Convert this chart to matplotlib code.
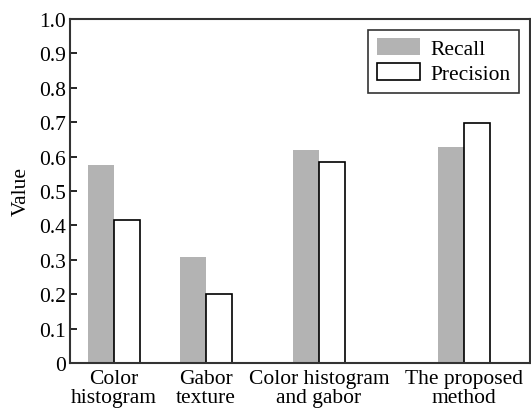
import numpy as np
import matplotlib.pyplot as plt

plt.rcParams['font.family'] = 'serif'
plt.rcParams['font.serif'] = ['Liberation Serif', 'DejaVu Serif']

categories = ['Color\nhistogram', 'Gabor\ntexture', 'Color histogram\nand gabor', 'The proposed\nmethod']
recall = [0.576, 0.307, 0.619, 0.627]
precision = [0.417, 0.202, 0.585, 0.698]

# group centres (uneven spacing as in the original figure)
centers = np.array([0.957, 2.957, 5.41, 8.565])
w = 0.565

fig = plt.figure(figsize=(5.31, 4.14), dpi=100)
ax = fig.add_axes([70/531, 1 - 364/414, 460/531, 344/414])

ax.bar(centers - w/2, recall, w, color='#b3b3b3', label='Recall')
ax.bar(centers + w/2, precision, w, facecolor='white', edgecolor='black',
       linewidth=1.2, label='Precision')

ax.set_xlim(0, 10)
ax.set_ylim(0, 1.0)
ax.set_yticks(np.arange(0, 1.01, 0.1))
ax.set_yticklabels(['0'] + ['%.1f' % v for v in np.arange(0.1, 1.01, 0.1)])
ax.set_xticks(centers)
ax.set_xticklabels(categories, linespacing=1.05)
ax.tick_params(axis='x', length=0, labelsize=15.5, pad=4)
ax.tick_params(axis='y', direction='in', length=5, width=1.2, labelsize=15.5, pad=3)
ax.set_ylabel('Value', fontsize=15.5, labelpad=6)

for s in ax.spines.values():
    s.set_linewidth(1.5)
    s.set_color('#333333')

leg = ax.legend(loc='upper right', fontsize=15.5, frameon=True, fancybox=False,
                edgecolor='black', handlelength=2.0, handleheight=0.8,
                handletextpad=0.5, borderpad=0.4, labelspacing=0.2,
                borderaxespad=0.5)
leg.get_frame().set_linewidth(1.2)

fig.savefig('out.png', dpi=100)
